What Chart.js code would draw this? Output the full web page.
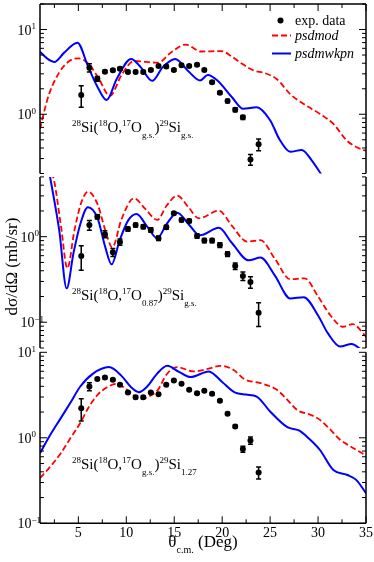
<!DOCTYPE html>
<html>
<head>
<meta charset="utf-8">
<script src="https://cdn.jsdelivr.net/npm/chart.js@4.4.0/dist/chart.umd.min.js"></script>
<style>
  html, body { margin: 0; padding: 0; background: #fff; }
  #wrap { position: relative; width: 374px; height: 562px; }
  #wrap canvas { position: absolute; left: 0; top: 0; }
</style>
</head>
<body>
<div id="wrap">
  <canvas id="c1" width="374" height="562"></canvas>
  <canvas id="c2" width="374" height="562"></canvas>
  <canvas id="c3" width="374" height="562"></canvas>
</div>
<script>
// x axis (theta c.m., deg)
const xMin = 1, xMax = 35;
const xTickLabels = ['5', '10', '15', '20', '25', '30', '35'];

// measured angles, same for all three transitions
const angles = [5.3, 6.15, 6.98, 7.77, 8.6, 9.34, 10.17, 10.97, 11.77, 12.56, 13.36, 14.17,
  14.96, 15.76, 16.56, 17.38, 18.14, 18.95, 19.76, 20.56, 21.36, 22.16, 22.95, 23.8];

// --- panel 1: 17O g.s. -> 29Si g.s.
const gsgsData = [1.69, 3.55, 2.62, 3.18, 3.31, 3.45, 3.16, 3.16, 3.16, 3.33, 3.71, 3.65,
  3.33, 3.78, 3.71, 3.84, 3.33, 2.39, 1.79, 1.43, 1.13, 0.92, 0.293, 0.442];
const gsgsErr = [0.48, 0.4, 0.17, 0.12, 0.12, 0.12, 0.12, 0.12, 0.12, 0.12, 0.13, 0.13,
  0.12, 0.13, 0.13, 0.13, 0.12, 0.09, 0.07, 0.06, 0.06, 0.05, 0.043, 0.07];
const gsgsModTheta = [1, 1.5, 2, 3, 4, 5, 6, 7, 8.3, 9.5, 10.8, 12, 13.3, 14.7, 16.2, 17.8,
  19.9, 21, 21.9, 23.4, 24.3, 25.7, 27.1, 28.5, 30.2, 31.6, 33, 34, 35];
const gsgsModVal = [0.67, 1.15, 1.8, 3.1, 4.2, 4.57, 4.0, 2.8, 1.65, 2.9, 4.25, 4.15, 4.06,
  5.4, 6.65, 5.5, 5.57, 4.8, 4.06, 3.24, 3.1, 2.59, 1.73, 1.32, 1.01, 0.77, 0.49, 0.41, 0.37];
const gsgsWkTheta = [1, 1.8, 2.5, 3.5, 4.9, 6, 7, 7.95, 9, 10.5, 11.5, 12.7, 13.8, 15.1,
  16.5, 17.7, 18.5, 19.5, 21, 22.2, 23.6, 25, 26, 27.1, 28.3, 29.3, 30.4];
const gsgsWkVal = [5.46, 4.5, 4.15, 5.3, 7.0, 3.7, 2.1, 1.47, 2.6, 4.5, 3.6, 2.48, 3.6, 4.5,
  3.2, 2.5, 2.9, 2.5, 1.6, 1.16, 1.21, 0.85, 0.5, 0.36, 0.38, 0.29, 0.19];

// --- panel 2: 17O 0.87 -> 29Si g.s.
const exgsData = [0.594, 1.37, 1.71, 1.07, 0.657, 0.867, 1.23, 1.37, 1.31, 1.2, 0.96, 1.29,
  1.88, 1.57, 1.53, 1.02, 0.9, 0.9, 0.8, 0.628, 0.454, 0.347, 0.295, 0.129];
const exgsErr = [0.19, 0.18, 0.1, 0.1, 0.07, 0.07, 0.07, 0.07, 0.07, 0.07, 0.06, 0.07,
  0.08, 0.07, 0.07, 0.06, 0.05, 0.05, 0.05, 0.04, 0.04, 0.04, 0.045, 0.04];
const exgsModTheta = [2.2, 2.46, 3.2, 3.85, 4.6, 5.3, 6, 7, 7.8, 8.54, 9.5, 10.8, 12, 13.23,
  14.2, 15.31, 16.5, 17.56, 19.65, 21, 22.6, 24, 25.5, 27.1, 28.6, 30, 31.3, 32.6, 33.6, 35];
const exgsModVal = [5.6, 4.6, 1.3, 0.427, 1.2, 2.5, 3.36, 2.4, 1.2, 0.75, 1.6, 2.81, 2.1, 1.57,
  2.3, 3.02, 2.2, 1.64, 2.01, 1.35, 0.875, 0.91, 0.55, 0.318, 0.326, 0.2, 0.12, 0.0886, 0.095, 0.068];
const exgsWkTheta = [2.0, 3, 3.78, 4.5, 5.2, 6, 7, 7.8, 8.47, 9.3, 10.2, 11.07, 12.2, 13.23,
  14.2, 15.31, 16.5, 17.67, 19.65, 21, 22.77, 24, 25.5, 27.1, 28.5, 30, 31, 32.3, 33.5, 34.6];
const exgsWkVal = [5.4, 1.2, 0.249, 0.65, 1.4, 2.21, 1.65, 0.76, 0.475, 0.9, 1.55, 1.84, 1.3,
  0.96, 1.4, 1.91, 1.4, 1.04, 1.27, 0.85, 0.53, 0.57, 0.35, 0.19, 0.196, 0.12, 0.075, 0.052, 0.0556, 0.047];

// --- panel 3: 17O g.s. -> 29Si 1.27
const gsexData = [2.22, 3.98, 4.86, 5.07, 4.77, 4.17, 3.39, 2.99, 2.99, 3.39, 3.24, 4.17,
  4.68, 4.28, 3.64, 3.33, 3.54, 3.27, 2.71, 1.91, 1.36, 0.738, 0.93, 0.393];
const gsexErr = [0.65, 0.43, 0.15, 0.15, 0.15, 0.12, 0.1, 0.1, 0.1, 0.1, 0.1, 0.12,
  0.13, 0.12, 0.1, 0.1, 0.1, 0.1, 0.08, 0.06, 0.05, 0.06, 0.09, 0.063];
const gsexModTheta = [1, 2, 3.17, 4.2, 5.2, 6, 7, 8, 9, 10, 11.5, 12.5, 13.3, 14.2, 15.3, 17,
  18.5, 19.8, 21.2, 22.3, 24, 25.7, 26.8, 27.8, 29.2, 30.2, 31.3, 32.3, 33.4, 35];
const gsexModVal = [0.338, 0.45, 0.66, 1.0, 1.49, 2.2, 3.18, 3.9, 4.28, 3.7, 2.84, 3.1, 3.64,
  5.5, 6.71, 5.97, 6.4, 6.95, 6.2, 4.86, 4.36, 3.64, 2.78, 2.12, 1.86, 1.62, 1.24, 0.95, 0.79, 0.62];
const gsexWkTheta = [1, 2, 3.17, 4.2, 5.2, 6.5, 8.2, 9.5, 10.5, 11.3, 12.2, 13.2, 14.27, 15.5,
  16.7, 18.6, 20, 21.3, 22.5, 23.6, 25, 26.8, 28, 29, 30.2, 31.6, 33, 34, 35];
const gsexWkVal = [0.66, 1.05, 1.7, 2.6, 3.98, 5.6, 6.71, 5.3, 3.9, 3.42, 4.0, 5.6, 6.95, 5.9,
  5.13, 5.97, 4.5, 3.4, 3.2, 3.04, 2.03, 1.33, 1.22, 0.99, 0.72, 0.42, 0.37, 0.32, 0.225];

const serif = '"Liberation Serif", "Times New Roman", serif';
const RED = '#ff0000', BLUE = '#0000ff';

function pts(theta, vals) {
  return theta.map((t, i) => ({ x: t, y: vals[i] }));
}

// inward ticks, frame, labels and texts for one panel
const panelDeco = {
  id: 'panelDeco',
  afterDraw(chart, args, o) {
    const { ctx, chartArea: a, scales: { x, y } } = chart;
    ctx.save();
    ctx.strokeStyle = '#000';
    ctx.fillStyle = '#000';

    ctx.lineWidth = 1.5;
    ctx.beginPath();
    ctx.moveTo(a.left, a.top); ctx.lineTo(a.left, a.bottom);
    ctx.moveTo(a.right, a.top); ctx.lineTo(a.right, a.bottom);
    if (o.top) { ctx.moveTo(a.left, a.top); ctx.lineTo(a.right, a.top); }
    if (o.bottom) { ctx.moveTo(a.left, a.bottom); ctx.lineTo(a.right, a.bottom); }
    ctx.stroke();

    // log ticks
    ctx.lineWidth = 1;
    ctx.beginPath();
    const lo = Math.floor(Math.log10(y.min)), hi = Math.ceil(Math.log10(y.max));
    for (let d = lo; d <= hi; d++) {
      for (let m = 1; m <= 9; m++) {
        const v = m * Math.pow(10, d);
        if (v < y.min * 0.999 || v > y.max * 1.001) continue;
        const py = y.getPixelForValue(v);
        const len = m === 1 ? 7 : 4;
        ctx.moveTo(a.left, py); ctx.lineTo(a.left + len, py);
        ctx.moveTo(a.right, py); ctx.lineTo(a.right - len, py);
      }
    }
    // x ticks on top / bottom edges
    for (let t = 2.5; t <= xMax + 0.01; t += 2.5) {
      const px = x.getPixelForValue(t);
      const len = (t % 5 === 0) ? 7 : 4;
      if (o.top) { ctx.moveTo(px, a.top); ctx.lineTo(px, a.top + len); }
      if (o.bottom) { ctx.moveTo(px, a.bottom); ctx.lineTo(px, a.bottom - len); }
    }
    ctx.stroke();

    // decade labels
    const lx = o.labelX || 17.5;
    o.decades.forEach(d => {
      const py = y.getPixelForValue(Math.pow(10, d));
      ctx.font = '14px ' + serif;
      ctx.textAlign = 'left';
      ctx.fillText('10', lx, py + 5);
      ctx.font = '9px ' + serif;
      ctx.fillText(String(d).replace('-', '\u2212'), lx + 14, py - 0.5);
    });

    if (o.bottom) {
      ctx.font = '14px ' + serif;
      ctx.textAlign = 'center';
      xTickLabels.forEach(l => ctx.fillText(l, x.getPixelForValue(+l), 537));
      // x title
      const big = '17px ' + serif, small = '10px ' + serif;
      ctx.font = big; const w1 = ctx.measureText('\u03b8').width;
      ctx.font = small; const w2 = ctx.measureText('c.m.').width;
      ctx.font = big; const w3 = ctx.measureText(' (Deg)').width;
      let cx = (a.left + a.right) / 2 - (w1 + w2 + w3) / 2;
      ctx.textAlign = 'left';
      ctx.font = big; ctx.fillText('\u03b8', cx, 546.5); cx += w1;
      ctx.font = small; ctx.fillText('c.m.', cx, 553); cx += w2;
      ctx.font = big; ctx.fillText(' (Deg)', cx, 546.5);
    }

    if (o.yTitle) {
      ctx.save();
      ctx.translate(16.5, 266.5);
      ctx.rotate(-Math.PI / 2);
      ctx.font = '17px ' + serif;
      ctx.textAlign = 'center';
      ctx.fillText(o.yTitle, 0, 0);
      ctx.restore();
    }

    // reaction label with super/subscripts
    if (o.reaction) {
      let cx = 72;
      const base = a.top + o.reactionY;
      ctx.textAlign = 'left';
      o.reaction.forEach(p => {
        const kind = p[1] || '';
        ctx.font = (kind ? '9px ' : '15px ') + serif;
        const dy = kind === 'sup' ? -6.5 : kind === 'sub' ? 5.5 : 0;
        ctx.fillText(p[0], cx, base + dy);
        cx += ctx.measureText(p[0]).width;
      });
    }

    if (o.legend) {
      ctx.textAlign = 'left';
      ctx.font = '14px ' + serif;
      ctx.beginPath(); ctx.arc(280.5, 20.5, 3, 0, Math.PI * 2); ctx.fill();
      ctx.fillText('exp. data', 295, 25);
      ctx.font = 'italic 14px ' + serif;
      ctx.lineWidth = 1.8;
      ctx.strokeStyle = RED; ctx.setLineDash([6, 3]);
      ctx.beginPath(); ctx.moveTo(272, 35.5); ctx.lineTo(291, 35.5); ctx.stroke();
      ctx.fillText('psdmod', 295, 40);
      ctx.strokeStyle = BLUE; ctx.setLineDash([]); ctx.lineWidth = 2;
      ctx.beginPath(); ctx.moveTo(272, 53.5); ctx.lineTo(291, 53.5); ctx.stroke();
      ctx.fillText('psdmwkpn', 295, 58);
    }
    ctx.restore();
  }
};

// vertical error bars for the measured points
const errorBars = {
  id: 'errorBars',
  afterDatasetsDraw(chart) {
    const { ctx, chartArea: a, scales: { x, y } } = chart;
    ctx.save();
    ctx.beginPath(); ctx.rect(a.left, a.top, a.right - a.left, a.bottom - a.top); ctx.clip();
    ctx.strokeStyle = '#000';
    ctx.lineWidth = 1.5;
    chart.data.datasets.forEach(ds => {
      if (!ds.errors) return;
      ds.data.forEach((p, i) => {
        const e = ds.errors[i];
        const px = x.getPixelForValue(p.x);
        const y1 = y.getPixelForValue(p.y + e), y2 = y.getPixelForValue(p.y - e);
        ctx.beginPath();
        ctx.moveTo(px, y1); ctx.lineTo(px, y2);
        ctx.moveTo(px - 2.5, y1); ctx.lineTo(px + 2.5, y1);
        ctx.moveTo(px - 2.5, y2); ctx.lineTo(px + 2.5, y2);
        ctx.stroke();
      });
    });
    ctx.restore();
  }
};

function makePanel(id, box, yMin, yMax, data, err, modT, modV, wkT, wkV, deco) {
  return new Chart(document.getElementById(id), {
    type: 'line',
    data: {
      datasets: [
        { label: 'exp. data', data: pts(angles, data), errors: err, showLine: false,
          pointRadius: 3, pointBackgroundColor: '#000', pointBorderWidth: 0 },
        { label: 'psdmwkpn', data: pts(wkT, wkV), borderColor: BLUE, borderWidth: 2,
          pointRadius: 0, cubicInterpolationMode: 'monotone', fill: false },
        { label: 'psdmod', data: pts(modT, modV), borderColor: RED, borderWidth: 1.8,
          borderDash: [6, 3], pointRadius: 0, cubicInterpolationMode: 'monotone', fill: false }
      ]
    },
    options: {
      responsive: false,
      devicePixelRatio: 1,
      animation: false,
      events: [],
      layout: { padding: { left: 40, right: 374 - 366, top: box[0], bottom: 562 - box[1] } },
      plugins: { legend: { display: false }, tooltip: { enabled: false }, panelDeco: deco },
      scales: {
        x: { type: 'linear', min: xMin, max: xMax, display: false },
        y: { type: 'logarithmic', min: yMin, max: yMax, display: false }
      }
    },
    plugins: [errorBars, panelDeco]
  });
}

makePanel('c1', [2.6, 173.5], 0.2, 20, gsgsData, gsgsErr, gsgsModTheta, gsgsModVal,
  gsgsWkTheta, gsgsWkVal, {
    top: true, decades: [0, 1], legend: true, reactionY: 128,
    reaction: [['28', 'sup'], ['Si('], ['18', 'sup'], ['O,'], ['17', 'sup'], ['O'], ['g.s.', 'sub'],
      [')'], ['29', 'sup'], ['Si'], ['g.s.', 'sub']]
  });

makePanel('c2', [176.9, 348], 0.05, 5, exgsData, exgsErr, exgsModTheta, exgsModVal,
  exgsWkTheta, exgsWkVal, {
    decades: [-1, 0], labelX: 20.5, yTitle: 'd\u03c3/d\u03a9 (mb/sr)', reactionY: 123.5,
    reaction: [['28', 'sup'], ['Si('], ['18', 'sup'], ['O,'], ['17', 'sup'], ['O'], ['0.87', 'sub'],
      [')'], ['29', 'sup'], ['Si'], ['g.s.', 'sub']]
  });

makePanel('c3', [352.3, 523.3], 0.1, 10, gsexData, gsexErr, gsexModTheta, gsexModVal,
  gsexWkTheta, gsexWkVal, {
    bottom: true, decades: [-1, 0, 1], reactionY: 116.7,
    reaction: [['28', 'sup'], ['Si('], ['18', 'sup'], ['O,'], ['17', 'sup'], ['O'], ['g.s.', 'sub'],
      [')'], ['29', 'sup'], ['Si'], ['1.27', 'sub']]
  });
</script>
</body>
</html>
